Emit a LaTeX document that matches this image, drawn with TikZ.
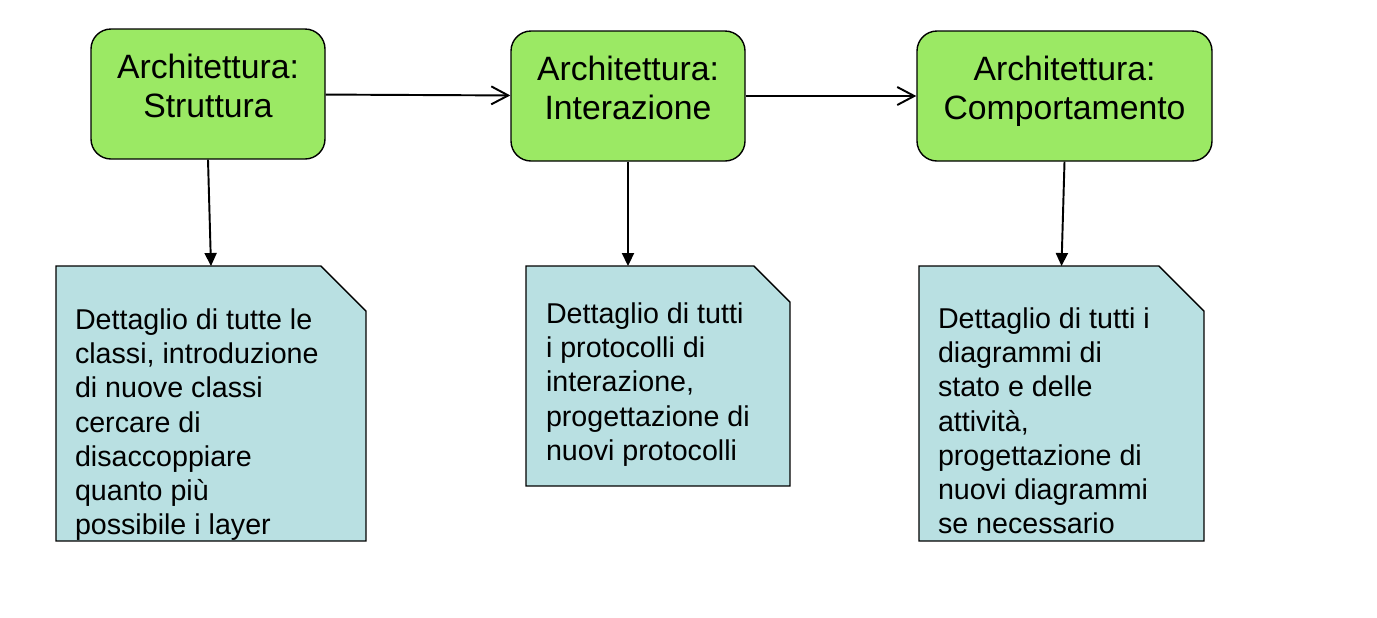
\documentclass[tikz,border=0pt]{standalone}
\usepackage{fontspec}
\setmainfont{Liberation Sans}
\usepackage{xcolor}
\usepackage{tikz}
\usetikzlibrary{positioning}
\usetikzlibrary{calc}
\usetikzlibrary{arrows.meta}
\usetikzlibrary{backgrounds}
\definecolor{archgreen}{RGB}{155,233,100}
\definecolor{notecyan}{RGB}{185,224,226}

\begin{document}
\begin{tikzpicture}[line width=1.1pt,
    arch/.style={rectangle, rounded corners=0.4cm, draw, line width=0.8pt,
      fill=archgreen, minimum height=2.6cm},
    archtext/.style={inner sep=0pt, align=center,
      font=\fontsize{19.2pt}{22.2pt}\selectfont},
    note/.style={rectangle, inner sep=0pt},
    notetext/.style={inner sep=0pt, align=left, anchor=north west,
      font=\fontsize{16.3pt}{19.4pt}\selectfont},
    flow/.style={-{Straight Barb[length=0.34cm, width=0.36cm]}},
    detail/.style={-{Triangle[length=0.26cm, width=0.24cm]}}]
        \useasboundingbox (0,0) rectangle (27.54,-12.34);

        \node [arch, minimum width=4.68cm] (struttura) at (4.16,-1.88) {};
        \node [arch, minimum width=4.68cm] (interazione) at (12.56,-1.92) {};
        \node [arch, minimum width=5.9cm] (comportamento) at (21.29,-1.92) {};

        \node [archtext, below=0.5cm of struttura.north] (strutturatxt) {Architettura:\\Struttura};
        \node [archtext, below=0.5cm of interazione.north] (interazionetxt) {Architettura:\\Interazione};
        \node [archtext, below=0.5cm of comportamento.north] (comportamentotxt) {Architettura:\\Comportamento};

        \node [note, minimum width=6.16cm, minimum height=5.46cm] (detstruttura) at (4.22,-8.07) {};
        \node [note, minimum width=5.24cm, minimum height=4.36cm] (detinterazione) at (13.16,-7.52) {};
        \node [note, minimum width=5.66cm, minimum height=5.46cm] (detcomportamento) at (21.23,-8.07) {};

        \node [notetext] (strutturanote) at ($(detstruttura.north west)+(0.36,-0.84)$)
            {Dettaglio di tutte le\\classi, introduzione\\di nuove classi\\cercare di\\disaccoppiare\\quanto più\\possibile i layer};
        \node [notetext] (interazionenote) at ($(detinterazione.north west)+(0.38,-0.72)$)
            {Dettaglio di tutti\\i protocolli di\\interazione,\\progettazione di\\nuovi protocolli};
        \node [notetext] (comportamentonote) at ($(detcomportamento.north west)+(0.36,-0.82)$)
            {Dettaglio di tutti i\\diagrammi di\\stato e delle\\attività,\\progettazione di\\nuovi diagrammi\\se necessario};

        \begin{scope}[on background layer]
        \foreach \n/\c in {detstruttura/0.9, detinterazione/0.72, detcomportamento/0.9}
            \draw [line width=0.8pt, fill=notecyan] (\n.north west) -- ($(\n.north east)+(-\c,0)$)
                -- ($(\n.north east)+(0,-\c)$) -- (\n.south east) -- (\n.south west) -- cycle;
        \end{scope}

        \draw [flow] (struttura) -- (interazione);
        \draw [flow] (interazione) -- (comportamento);

        \draw [detail] (struttura.south) -- (detstruttura.north);
        \draw [detail] (interazione.south) -- (interazione.south |- detinterazione.north);
        \draw [detail] (comportamento.south) -- (detcomportamento.north);
\end{tikzpicture}
\end{document}
